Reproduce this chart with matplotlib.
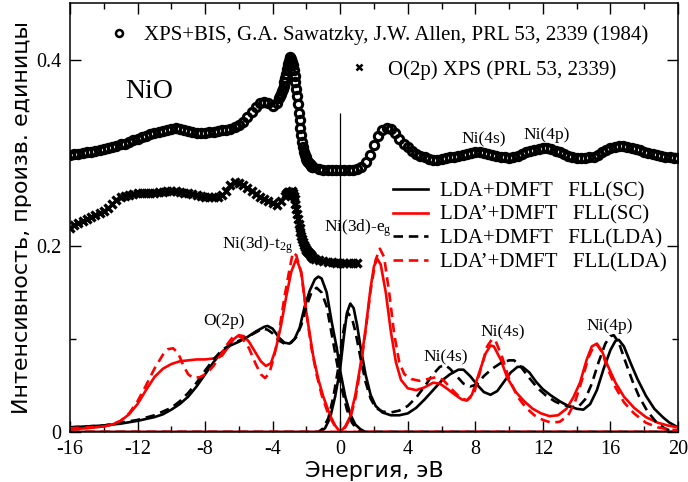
import numpy as np
import matplotlib
matplotlib.use('Agg')
import matplotlib.pyplot as plt
from matplotlib.lines import Line2D
from matplotlib.ticker import MultipleLocator, FuncFormatter

plt.rcParams['font.family'] = 'Liberation Serif'
plt.rcParams['mathtext.default'] = 'regular'
plt.rcParams['axes.unicode_minus'] = False

# --- experiment: XPS+BIS (Sawatzky & Allen), sampled in three energy windows
bis_low = [0.298, 0.299, 0.299, 0.300, 0.301, 0.301, 0.302, 0.303, 0.304, 0.305,
           0.306, 0.307, 0.309, 0.310, 0.312, 0.314, 0.315, 0.317, 0.318, 0.320,
           0.321, 0.322, 0.323, 0.325, 0.326, 0.327, 0.326, 0.324, 0.323, 0.322,
           0.321, 0.321, 0.321, 0.322, 0.322, 0.323, 0.324, 0.325, 0.326, 0.328,
           0.330, 0.333, 0.338, 0.344, 0.349, 0.353, 0.355, 0.353, 0.350, 0.354]
bis_peak = [0.359, 0.361, 0.363, 0.366, 0.369, 0.372, 0.376, 0.380, 0.385, 0.390,
            0.395, 0.399, 0.402, 0.403, 0.401, 0.398, 0.394, 0.389, 0.383, 0.376,
            0.369, 0.361, 0.352, 0.343, 0.335, 0.327, 0.319, 0.312, 0.306, 0.301,
            0.298, 0.295, 0.293, 0.291, 0.290, 0.289, 0.288, 0.287, 0.286, 0.285,
            0.285]
bis_high = [0.283, 0.282, 0.282, 0.282, 0.282, 0.282, 0.282, 0.282, 0.282, 0.283,
            0.285, 0.290, 0.298, 0.308, 0.318, 0.324, 0.327, 0.326, 0.321, 0.315,
            0.310, 0.306, 0.302, 0.299, 0.297, 0.295, 0.293, 0.292, 0.292, 0.293,
            0.294, 0.295, 0.296, 0.297, 0.298, 0.299, 0.300, 0.301, 0.301, 0.300,
            0.299, 0.298, 0.297, 0.296, 0.295, 0.294, 0.295, 0.297, 0.299, 0.301,
            0.302, 0.303, 0.304, 0.305, 0.305, 0.304, 0.302, 0.301, 0.299, 0.297,
            0.295, 0.294, 0.294, 0.294, 0.295, 0.296, 0.298, 0.301, 0.303, 0.305,
            0.306, 0.307, 0.307, 0.306, 0.305, 0.304, 0.303, 0.301, 0.300, 0.299,
            0.298, 0.297, 0.296, 0.295, 0.294, 0.294]

# --- experiment: O(2p) XPS
o2p_low = [0.219, 0.222, 0.225, 0.227, 0.229, 0.231, 0.233, 0.235, 0.238, 0.241,
           0.245, 0.249, 0.252, 0.254, 0.255, 0.256, 0.257, 0.257, 0.257, 0.257,
           0.257, 0.258, 0.258, 0.259, 0.259, 0.259, 0.258, 0.257, 0.257, 0.256,
           0.255, 0.254, 0.253, 0.253, 0.253, 0.253, 0.255, 0.259, 0.265, 0.269,
           0.268, 0.265, 0.262, 0.259, 0.256, 0.253, 0.250, 0.248, 0.246, 0.244,
           0.248, 0.254]
o2p_peak = [0.256, 0.257, 0.258, 0.258, 0.257, 0.256, 0.258, 0.259, 0.257, 0.254,
            0.250, 0.245, 0.240, 0.234, 0.229, 0.224, 0.219, 0.215, 0.211, 0.207,
            0.204, 0.201, 0.199, 0.197, 0.196, 0.194, 0.193, 0.192, 0.191, 0.190,
            0.189, 0.188, 0.187]
o2p_high = [0.186, 0.185, 0.184, 0.183, 0.183, 0.182, 0.182, 0.182, 0.182, 0.182, 0.182]

bis_e = np.concatenate([np.linspace(-16, -3.75, len(bis_low)),
                        np.linspace(-3.6, -1.6, len(bis_peak)),
                        np.linspace(-1.25, 20, len(bis_high))])
bis_y = np.array(bis_low + bis_peak + bis_high)
o2p_e = np.concatenate([np.linspace(-16, -3.25, len(o2p_low)),
                        np.linspace(-3.2, -1.6, len(o2p_peak)),
                        np.linspace(-1.5, 1.0, len(o2p_high))])
o2p_y = np.array(o2p_low + o2p_peak + o2p_high)

# --- theory: occupied (valence) spectra
lda_sc_occ_e = [-16, -15, -14, -13, -12, -11, -10.5, -10, -9.5, -9, -8.5, -8, -7.5, -7,
                -6.5, -6, -5.5, -5, -4.5, -4.3, -4.0, -3.6, -3.3, -3.0, -2.7, -2.4, -2.1,
                -1.8, -1.5, -1.3, -1.1, -0.8, -0.5, -0.2, 0, 0.3, 0.6, 0.9, 1.2, 1.5, 20]
lda_sc_occ = [0.005, 0.006, 0.007, 0.009, 0.012, 0.016, 0.019, 0.024, 0.030, 0.038,
              0.049, 0.062, 0.075, 0.086, 0.093, 0.097, 0.102, 0.108, 0.113, 0.114,
              0.111, 0.101, 0.096, 0.095, 0.100, 0.112, 0.135, 0.152, 0.164, 0.167,
              0.165, 0.150, 0.118, 0.090, 0.066, 0.038, 0.019, 0.008, 0.003, 0.0, 0.0]

lda_lda_occ_e = [-16, -14, -12, -11, -10, -9.5, -9, -8.5, -8, -7.5, -7, -6.5, -6, -5.5,
                 -5, -4.6, -4.3, -4.0, -3.6, -3.2, -2.9, -2.6, -2.3, -2.0, -1.7, -1.4,
                 -1.1, -0.8, -0.5, -0.2, 0.1, 0.4, 0.7, 1.0, 1.3, 20]
lda_lda_occ = [0.005, 0.007, 0.013, 0.018, 0.026, 0.033, 0.042, 0.053, 0.066, 0.078,
               0.088, 0.094, 0.098, 0.102, 0.107, 0.111, 0.110, 0.106, 0.098, 0.094,
               0.096, 0.102, 0.115, 0.135, 0.150, 0.155, 0.150, 0.135, 0.105, 0.075,
               0.046, 0.024, 0.010, 0.003, 0.0, 0.0]

ldap_sc_occ_e = [-16, -15, -14, -13.5, -13, -12.5, -12, -11.5, -11, -10.5, -10, -9.5,
                 -9, -8.5, -8, -7.5, -7, -6.6, -6.3, -6.0, -5.7, -5.4, -5.0, -4.7, -4.4,
                 -4.1, -3.8, -3.5, -3.2, -2.9, -2.6, -2.3, -2.0, -1.6, -1.3, -1.0, -0.6,
                 -0.3, 0, 20]
ldap_sc_occ = [0.003, 0.004, 0.006, 0.008, 0.012, 0.019, 0.030, 0.045, 0.059, 0.068,
               0.073, 0.076, 0.077, 0.078, 0.078, 0.079, 0.082, 0.092, 0.100, 0.104,
               0.103, 0.097, 0.085, 0.076, 0.071, 0.074, 0.090, 0.115, 0.145, 0.172,
               0.186, 0.172, 0.128, 0.082, 0.057, 0.038, 0.018, 0.007, 0.0, 0.0]

ldap_lda_occ_e = [-16, -15, -14, -13.5, -13, -12.5, -12, -11.5, -11, -10.5, -10.2, -9.9,
                  -9.6, -9.3, -9.0, -8.7, -8.3, -7.9, -7.5, -7.1, -6.7, -6.4, -6.1, -5.8,
                  -5.4, -5.0, -4.7, -4.45, -4.2, -3.9, -3.6, -3.3, -3.0, -2.8, -2.6, -2.3,
                  -2.0, -1.7, -1.4, -1.1, -0.7, -0.3, 0, 20]
ldap_lda_occ = [0.004, 0.005, 0.006, 0.008, 0.012, 0.020, 0.033, 0.050, 0.068, 0.083,
                0.089, 0.090, 0.085, 0.072, 0.062, 0.058, 0.059, 0.063, 0.071, 0.082,
                0.094, 0.101, 0.104, 0.101, 0.090, 0.073, 0.062, 0.058, 0.063, 0.082,
                0.110, 0.145, 0.175, 0.193, 0.190, 0.170, 0.128, 0.090, 0.062, 0.040,
                0.019, 0.006, 0.0, 0.0]

# --- theory: unoccupied (conduction) spectra
lda_sc_unocc_e = [-16, -1.2, -0.9, -0.6, -0.3, 0, 0.2, 0.4, 0.6, 0.8, 1.0, 1.2, 1.5, 1.8,
                  2.1, 2.5, 3.0, 3.5, 4.0, 4.5, 5.0, 5.5, 6.0, 6.5, 7.0, 7.3, 7.7, 8.1,
                  8.5, 8.9, 9.3, 9.7, 10.1, 10.5, 10.8, 11.2, 11.6, 12.0, 12.5, 13.0,
                  13.5, 14.0, 14.4, 14.8, 15.2, 15.6, 16.0, 16.3, 16.5, 16.8, 17.2, 17.6,
                  18.1, 18.6, 19.1, 19.5, 20]
lda_sc_unocc = [0, 0, 0.004, 0.015, 0.038, 0.068, 0.100, 0.128, 0.138, 0.133,
                0.115, 0.092, 0.062, 0.040, 0.028, 0.021, 0.018, 0.018, 0.020, 0.026,
                0.035, 0.045, 0.055, 0.062, 0.067, 0.067, 0.060, 0.051, 0.043, 0.040,
                0.044, 0.054, 0.064, 0.070, 0.070, 0.064, 0.054, 0.046, 0.039, 0.033,
                0.028, 0.025, 0.024, 0.030, 0.045, 0.068, 0.088, 0.098, 0.099, 0.092,
                0.074, 0.057, 0.039, 0.025, 0.016, 0.010, 0.005]

lda_lda_unocc_e = [-16, -1.3, -1.0, -0.7, -0.4, -0.1, 0.1, 0.3, 0.45, 0.7, 0.9, 1.2,
                   1.5, 1.8, 2.1, 2.5, 3.0, 3.5, 4.0, 4.5, 5.0, 5.5, 5.9, 6.2, 6.5, 6.9,
                   7.3, 7.7, 8.1, 8.5, 9.0, 9.5, 10.0, 10.3, 10.7, 11.2, 11.7, 12.2,
                   12.7, 13.2, 13.7, 14.1, 14.5, 14.9, 15.3, 15.7, 16.0, 16.2, 16.5,
                   16.9, 17.3, 17.7, 18.2, 18.7, 19.2, 19.6, 20]
lda_lda_unocc = [0, 0, 0.004, 0.015, 0.038, 0.070, 0.098, 0.120, 0.128, 0.122,
                 0.108, 0.080, 0.054, 0.036, 0.026, 0.022, 0.021, 0.023, 0.028, 0.037,
                 0.049, 0.062, 0.070, 0.072, 0.068, 0.060, 0.052, 0.049, 0.051, 0.060,
                 0.068, 0.074, 0.077, 0.077, 0.070, 0.058, 0.047, 0.039, 0.033, 0.029,
                 0.027, 0.027, 0.035, 0.052, 0.075, 0.095, 0.103, 0.104, 0.096, 0.075,
                 0.055, 0.038, 0.022, 0.011, 0.004, 0.001, 0.0]

ldap_sc_unocc_e = [-16, 0, 0.3, 0.6, 0.9, 1.2, 1.5, 1.8, 2.0, 2.2, 2.4, 2.7, 3.0, 3.3,
                   3.6, 4.0, 4.5, 5.0, 5.5, 5.9, 6.3, 6.8, 7.2, 7.5, 7.8, 8.2, 8.6, 8.9,
                   9.1, 9.5, 9.9, 10.4, 10.9, 11.4, 11.9, 12.4, 12.9, 13.4, 13.8, 14.2,
                   14.6, 14.9, 15.2, 15.5, 15.8, 16.3, 16.8, 17.4, 18.1, 18.8, 19.4, 20]
ldap_sc_unocc = [0, 0, 0.006, 0.017, 0.040, 0.072, 0.110, 0.155, 0.178, 0.186,
                 0.180, 0.150, 0.108, 0.075, 0.056, 0.047, 0.045, 0.048, 0.053, 0.052,
                 0.047, 0.040, 0.035, 0.034, 0.040, 0.062, 0.084, 0.093, 0.092, 0.078,
                 0.058, 0.043, 0.033, 0.025, 0.020, 0.017, 0.018, 0.025, 0.037, 0.053,
                 0.078, 0.092, 0.095, 0.087, 0.073, 0.053, 0.038, 0.026, 0.016, 0.010,
                 0.007, 0.005]

ldap_lda_unocc_e = [-16, 0, 0.3, 0.6, 0.9, 1.2, 1.5, 1.8, 2.1, 2.35, 2.6, 2.9, 3.2, 3.5,
                    3.8, 4.2, 4.7, 5.2, 5.7, 6.1, 6.6, 7.1, 7.5, 7.9, 8.3, 8.7, 9.0, 9.2,
                    9.6, 10.0, 10.5, 11.0, 11.5, 12.0, 12.5, 13.0, 13.5, 13.9, 14.3,
                    14.7, 15.0, 15.2, 15.5, 15.8, 16.3, 16.8, 17.4, 18.1, 18.8, 19.4, 20]
ldap_lda_unocc = [0, 0, 0.005, 0.015, 0.036, 0.068, 0.108, 0.152, 0.185, 0.197,
                  0.188, 0.150, 0.105, 0.075, 0.062, 0.057, 0.055, 0.057, 0.059, 0.056,
                  0.046, 0.037, 0.034, 0.040, 0.066, 0.092, 0.100, 0.098, 0.080, 0.057,
                  0.038, 0.026, 0.018, 0.013, 0.010, 0.011, 0.018, 0.032, 0.055, 0.080,
                  0.092, 0.094, 0.086, 0.070, 0.048, 0.032, 0.020, 0.010, 0.005, 0.003,
                  0.002]

fermi_line_top = 0.343

series_labels = ['LDA+DMFT   FLL(SC)', 'LDA\u2019+DMFT   FLL(SC)',
                 'LDA+DMFT   FLL(LDA)', 'LDA\u2019+DMFT   FLL(LDA)']

# peak annotations: (text, energy, intensity)
peak_labels = [
    ('Ni(3d)-t$_{2g}$', -7.02, 0.1975),
    ('Ni(3d)-e$_g$', -0.96, 0.2154),
    ('O(2p)', -8.1, 0.115),
    ('Ni(4s)', 4.92, 0.0756),
    ('Ni(4s)', 8.3, 0.1025),
    ('Ni(4p)', 14.59, 0.1097),
    ('Ni(4s)', 7.19, 0.310),
    ('Ni(4p)', 10.88, 0.3147),
]

fig = plt.figure(figsize=(6.88, 4.82), dpi=100)
ax = fig.add_axes([0.1017, 0.1037, 0.8837, 0.8901])

lw = 1.9
dash = (0, (3.6, 2.2))
curves = [
    (lda_sc_occ_e, lda_sc_occ, lda_sc_unocc_e, lda_sc_unocc, 'black', '-'),
    (ldap_sc_occ_e, ldap_sc_occ, ldap_sc_unocc_e, ldap_sc_unocc, 'red', '-'),
    (lda_lda_occ_e, lda_lda_occ, lda_lda_unocc_e, lda_lda_unocc, 'black', dash),
    (ldap_lda_occ_e, ldap_lda_occ, ldap_lda_unocc_e, ldap_lda_unocc, 'red', dash),
]
handles = []
for (oe, oy, ue, uy, c, ls), lab in zip(curves, series_labels):
    ax.plot(oe, oy, color=c, ls=ls, lw=lw)
    ax.plot(ue, uy, color=c, ls=ls, lw=lw)
    handles.append(Line2D([], [], color=c, ls=ls, lw=lw, label=lab))

ax.vlines(0, 0, fermi_line_top, color='black', lw=0.9)

ax.plot(bis_e, bis_y, ls='none', marker='o', ms=6.0, mfc='none', mec='black',
        mew=2.2, zorder=5)
ax.plot(o2p_e, o2p_y, ls='none', marker='x', ms=5.4, mec='black', mew=2.4, zorder=5)

ax.text(-12.74, 0.359, 'NiO', fontsize=20, va='baseline')
for txt, xe, ye in peak_labels:
    ax.text(xe, ye, txt, fontsize=12.5, va='baseline')

ax.set_xlim(-16, 20)
ax.set_ylim(0, 0.461)
ax.xaxis.set_major_locator(MultipleLocator(4))
ax.xaxis.set_minor_locator(MultipleLocator(2))
ax.yaxis.set_major_locator(MultipleLocator(0.2))
ax.yaxis.set_minor_locator(MultipleLocator(0.1))
ax.yaxis.set_major_formatter(FuncFormatter(lambda v, p: f'{v:g}'))
ax.tick_params(which='both', direction='in', top=True, right=True, width=1.0)
ax.tick_params(which='major', length=8, labelsize=14.5)
ax.tick_params(axis='x', which='major', pad=6)
ax.tick_params(axis='y', which='major', pad=6)
ax.tick_params(which='minor', length=4.5)
for s in ax.spines.values():
    s.set_linewidth(1.1)

ax.set_xlabel('Энергия, эВ', family='DejaVu Sans', fontsize=16, labelpad=1)
ax.set_ylabel('Интенсивность, произв. единицы', family='DejaVu Sans', fontsize=16,
              labelpad=3)

# experiment legends, placed separately
exp1 = ax.legend(handles=[Line2D([], [], ls='none', marker='o', ms=5.0, mfc='none',
                                 mec='black', mew=1.8)],
                 labels=['XPS+BIS, G.A. Sawatzky, J.W. Allen, PRL 53, 2339 (1984)'],
                 loc='center left', bbox_to_anchor=(0.063, 0.925), frameon=False,
                 fontsize=15, handlelength=1.0, handletextpad=0.72,
                 borderpad=0, borderaxespad=0)
ax.add_artist(exp1)
exp2 = ax.legend(handles=[Line2D([], [], ls='none', marker='x', ms=4.5, mec='black',
                                 mew=1.8)],
                 labels=['O(2p) XPS (PRL 53, 2339)'],
                 loc='center left', bbox_to_anchor=(0.458, 0.844), frameon=False,
                 fontsize=15, handlelength=1.0, handletextpad=0.9,
                 borderpad=0, borderaxespad=0)
ax.add_artist(exp2)
ax.legend(handles=handles, loc='center left', bbox_to_anchor=(0.531, 0.478),
          frameon=False, fontsize=15, handlelength=1.68, handletextpad=0.58,
          labelspacing=0.2, borderpad=0, borderaxespad=0)

fig.savefig('out.png', dpi=100)
